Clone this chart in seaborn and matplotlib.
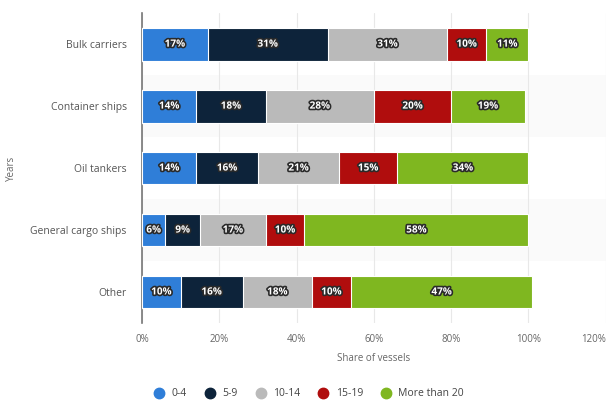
import matplotlib
matplotlib.use("Agg")
import matplotlib.pyplot as plt
import matplotlib.patheffects as pe
from matplotlib.lines import Line2D
import numpy as np
import pandas as pd
import seaborn as sns

vessel_types = ["Bulk carriers", "Container ships", "Oil tankers",
                "General cargo ships", "Other"]
age_groups = ["0-4", "5-9", "10-14", "15-19", "More than 20"]
share_0_4 = [17, 14, 14, 6, 10]
share_5_9 = [31, 18, 16, 9, 16]
share_10_14 = [31, 28, 21, 17, 18]
share_15_19 = [10, 20, 15, 10, 10]
share_20_plus = [11, 19, 34, 58, 47]
x_ticks = [0, 20, 40, 60, 80, 100, 120]

colors = ["#2f7ed8", "#0d233a", "#bababa", "#b00d0d", "#7fb720"]

sns.set_theme(style="white")
plt.rcParams["font.family"] = ["Open Sans", "DejaVu Sans"]

series = [share_0_4, share_5_9, share_10_14, share_15_19, share_20_plus]
df = pd.DataFrame({"type": vessel_types})
for name, vals in zip(age_groups, series):
    df[name] = vals
cum = df[age_groups].cumsum(axis=1)

fig = plt.figure(figsize=(6.07, 4.05), dpi=100)
ax = fig.add_axes([0.234, 0.2025, 0.764, 0.765])

# faint alternating row bands
for i in range(len(vessel_types)):
    if i % 2 == 1:
        ax.axhspan(i - 0.5, i + 0.5, color="#fafafa", zorder=0, lw=0)

# stacked bars: draw cumulative totals from the outermost segment inward
for name, color in reversed(list(zip(age_groups, colors))):
    sns.barplot(x=cum[name], y=df["type"], orient="h", color=color,
                width=0.53, edgecolor="white", linewidth=0.8,
                ax=ax, zorder=3, saturation=1)

# value labels in the middle of each segment
for i, t in enumerate(vessel_types):
    left = 0
    for name in age_groups:
        v = df.loc[i, name]
        ax.text(left + v / 2, i, f"{v}%", ha="center", va="center",
                color="white", fontsize=7.2, fontweight="bold", zorder=5,
                path_effects=[pe.withStroke(linewidth=2.4, foreground="#2a2a2a")])
        left += v

ax.set_xlim(0, 120)
ax.set_ylim(len(vessel_types) - 0.5, -0.5)
ax.set_xticks(x_ticks)
ax.set_xticklabels([f"{v}%" for v in x_ticks])
ax.get_xticklabels()[-1].set_ha("right")
ax.xaxis.grid(True, color="#e8e8e8", linewidth=0.8, zorder=1)
ax.set_axisbelow(True)
for s in ["top", "right", "bottom"]:
    ax.spines[s].set_visible(False)
ax.spines["left"].set_color("#777777")
ax.spines["left"].set_linewidth(1.2)
ax.tick_params(axis="x", colors="#666666", labelsize=7, length=0, pad=8)
ax.tick_params(axis="y", colors="#555555", labelsize=7.5, length=0, pad=11)
ax.set_xlabel("Share of vessels", fontsize=7, color="#666666", labelpad=6)
ax.set_ylabel("Years", fontsize=7, color="#666666")
ax.yaxis.set_label_coords(-0.27, 0.5)

handles = [Line2D([0], [0], marker="o", linestyle="", markersize=7.5,
                  markerfacecolor=c, markeredgecolor=c) for c in colors]
fig.legend(handles, age_groups, loc="center", bbox_to_anchor=(0.505, 0.028),
           ncol=5, frameon=False, fontsize=7.5, handletextpad=0.2,
           columnspacing=1.2, labelcolor="#444444")

fig.savefig("out.png", dpi=100)
